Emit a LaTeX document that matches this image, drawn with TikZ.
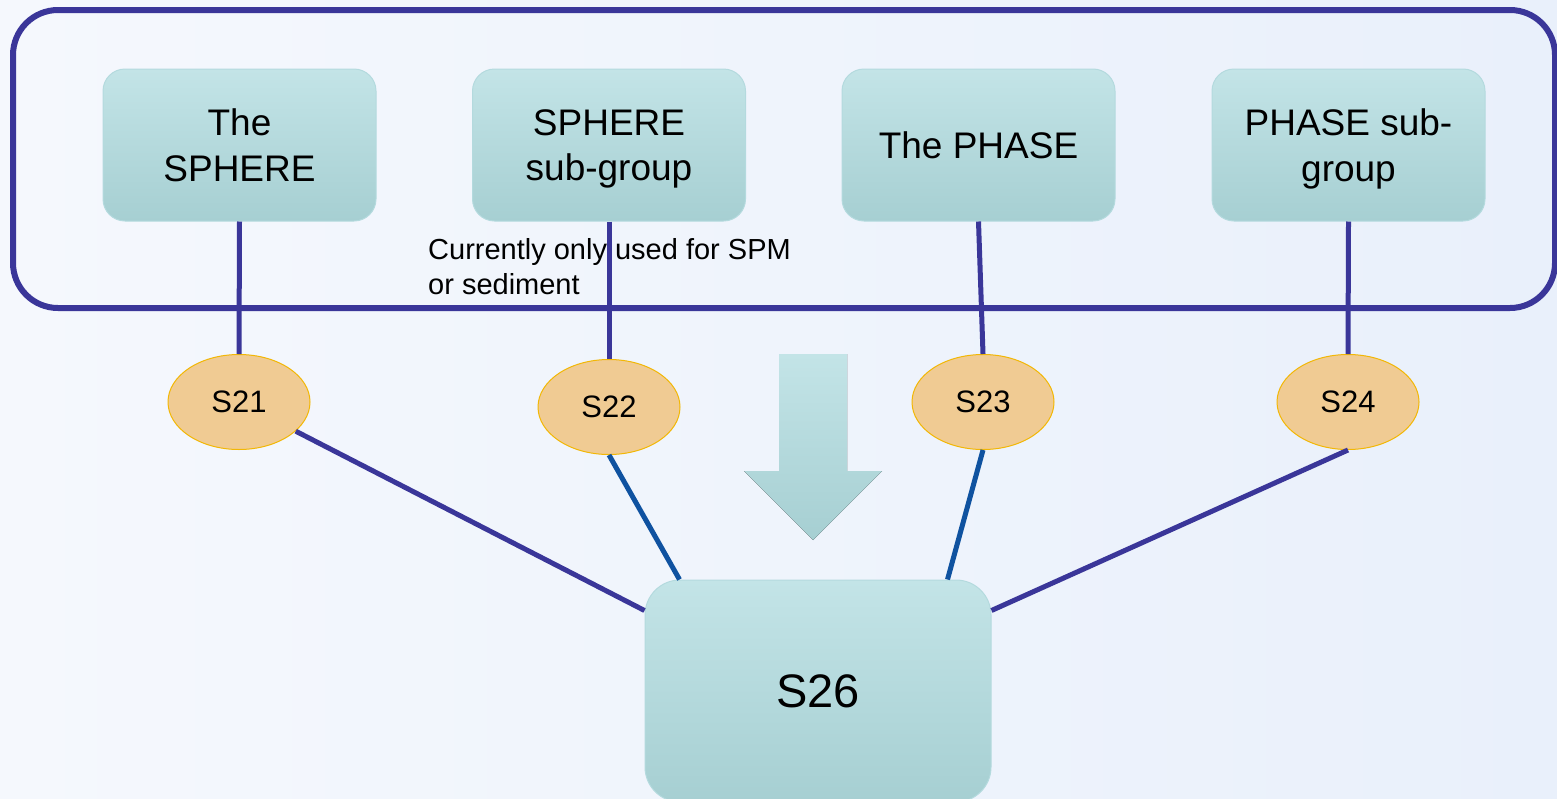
\documentclass[tikz,border=0pt]{standalone}
\usepackage{fontspec}
\setmainfont{Liberation Sans}
\usetikzlibrary{shapes.geometric,calc}
\definecolor{frameblue}{HTML}{3A3699}
\definecolor{linkblue}{HTML}{0F52A0}
\definecolor{tealtop}{HTML}{C3E4E7}
\definecolor{tealbot}{HTML}{A6CFD2}
\definecolor{tealedge}{HTML}{B4DADE}
\definecolor{tagfill}{HTML}{F0CB93}
\definecolor{tagedge}{HTML}{F2B705}
\definecolor{bgleft}{HTML}{F5F8FD}
\definecolor{bgright}{HTML}{E9F0FB}
\tikzset{
  topbox/.style={rectangle, rounded corners=22pt, draw=tealedge, line width=1pt,
    top color=tealtop, bottom color=tealbot, minimum width=273pt, minimum height=152pt,
    align=center, inner sep=0pt, text depth=0pt, font=\fontsize{37}{45.5}\selectfont},
  bigbox/.style={rectangle, rounded corners=35pt, draw=tealedge, line width=1pt,
    top color=tealtop, bottom color=tealbot, minimum width=346pt, minimum height=222pt,
    inner sep=0pt, font=\fontsize{47}{56}\selectfont},
  tag/.style={ellipse, draw=tagedge, line width=1pt, fill=tagfill,
    minimum width=142pt, minimum height=95pt, inner sep=0pt,
    font=\fontsize{31}{36}\selectfont},
  link/.style={line width=5pt, draw=frameblue},
  bluelink/.style={line width=5pt, draw=linkblue},
  note/.style={anchor=west, align=left, inner sep=0pt, font=\fontsize{29}{35}\selectfont}
}
\begin{document}
\begin{tikzpicture}[x=1pt, y=-1pt]
\useasboundingbox (0,0) rectangle (1557,798);
% page background
\fill[left color=bgleft, right color=bgright] (0,0) rectangle (1557,798);

% group frame
\draw[frameblue, line width=6pt, rounded corners=45pt] (13,10) rectangle (1555,308);

% upper row of boxes
\node[topbox] (sphere) at (239.5,145) {The\\SPHERE};
\node[topbox] (spheresub) at (609,145) {SPHERE\\sub-group};
\node[topbox] (phase) at (978.5,145) {The PHASE};
\node[topbox] (phasesub) at (1348.5,145) {PHASE sub-\\group};

% note
\node[note] (note) at (428,266.5) {Currently only used for SPM\\or sediment};

% tags
\node[tag] (s21) at (239,402) {S21};
\node[tag] (s22) at (609,407) {S22};
\node[tag] (s23) at (983,402) {S23};
\node[tag] (s24) at (1348,402) {S24};

% target box
\node[bigbox] (s26) at (818,691) {S26};

% big downward arrow
\fill[top color=tealtop, bottom color=tealbot]
  (779,354) -- (847,354) -- (847,471) -- (882,471) -- (813,540)
  -- (744,471) -- (779,471) -- cycle;

% connectors from boxes to tags
\draw[link] (sphere.south) -- (s21.north);
\draw[link] (spheresub.south) -- (s22.north);
\draw[link] (phase.south) -- (s23.north);
\draw[link] (phasesub.south) -- (s24.north);

% connectors from tags to target
\draw[link] (s21) -- ($(s26.north west)+(0,31)$);
\draw[bluelink] (s22.south) -- ($(s26.north west)+(35,0)$);
\draw[bluelink] (s23.south) -- ($(s26.north east)+(-44,0)$);
\draw[link] (s24.south) -- ($(s26.north east)+(0,31)$);
\end{tikzpicture}
\end{document}
